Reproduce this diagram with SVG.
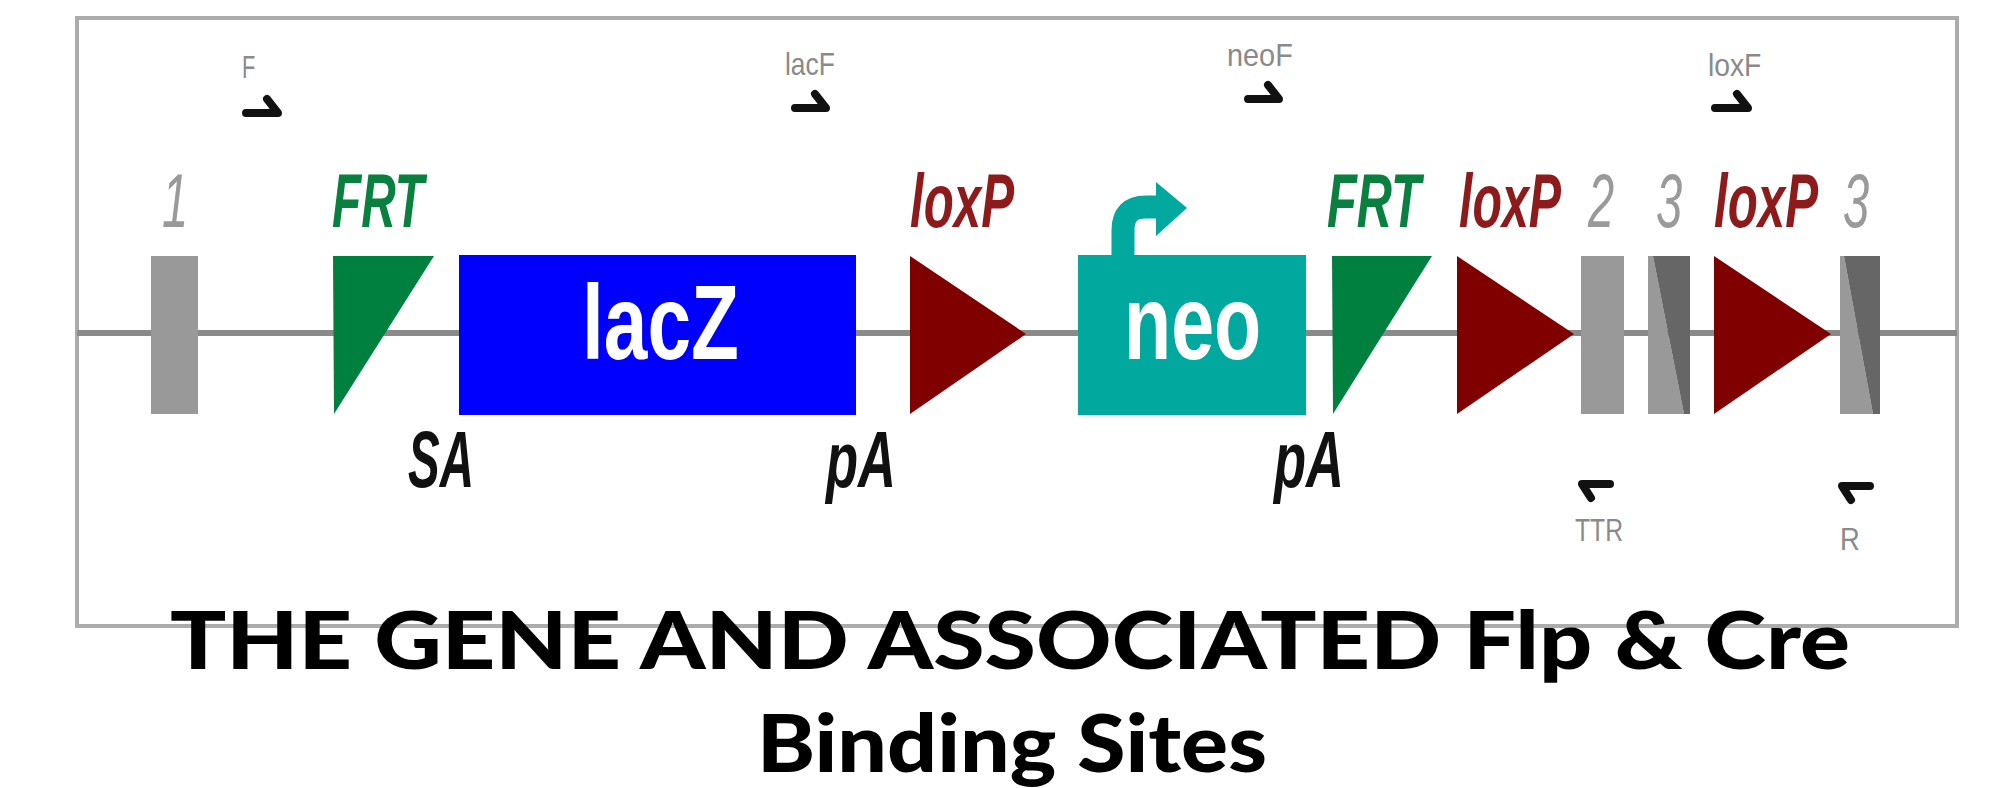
<svg xmlns="http://www.w3.org/2000/svg" width="1991" height="788" viewBox="0 0 1991 788">
  <style>
    .frame { fill: none; stroke: #acacac; stroke-width: 4; }
    .backbone { stroke: #8a8a8a; stroke-width: 6; fill: none; }
    .exon { fill: #999999; }
    .exon-dark { fill: #666666; }
    .frt { fill: #00803f; }
    .lox { fill: #800000; }
    .site { font-family: "Liberation Sans", Arial, sans-serif; font-size: 76px; font-weight: bold; font-style: italic; }
    .num { font-family: "Liberation Sans", Arial, sans-serif; font-size: 76px; font-style: italic; fill: #9a9a9a; }
    .frt-label { fill: #0a8040; }
    .lox-label { fill: #8e1b1b; }
    .mark { font-family: "Liberation Sans", Arial, sans-serif; font-size: 80px; font-weight: bold; font-style: italic; fill: #111111; }
    .inner { font-family: "Liberation Sans", Arial, sans-serif; font-size: 106px; font-weight: bold; fill: #ffffff; }
    .primer { fill: none; stroke: #111111; stroke-width: 8; stroke-linecap: round; stroke-linejoin: round; }
    .primer-label { font-family: "Liberation Sans", Arial, sans-serif; font-size: 31px; fill: #8a8a8a; }
    .title { font-family: Lato, "Open Sans", "Liberation Sans", sans-serif; font-size: 80px; font-weight: 900; fill: #000000; }
  </style>

  <rect width="1991" height="788" fill="#ffffff"/>

  <!-- panel frame -->
  <rect class="frame" x="77" y="18" width="1880" height="608"/>

  <!-- DNA backbone -->
  <g id="connectors">
    <line class="backbone" x1="77" y1="333" x2="1957" y2="333"/>
  </g>

  <!-- exon 1 -->
  <g id="exon1">
    <rect class="exon" x="151" y="256" width="47" height="158"/>
    <text class="num" transform="translate(162,227) scale(0.62,1)">1</text>
  </g>

  <!-- first FRT site -->
  <g id="frt1">
    <polygon class="frt" points="333,256 434,256 334,414"/>
    <text class="site frt-label" transform="translate(332,227) scale(0.63,1)" textLength="146" lengthAdjust="spacingAndGlyphs">FRT</text>
  </g>

  <!-- splice acceptor -->
  <g id="sa">
    <text class="mark" transform="translate(408,487) scale(0.6,1)" textLength="110" lengthAdjust="spacingAndGlyphs">SA</text>
  </g>

  <!-- lacZ reporter -->
  <g id="lacz">
    <rect x="459" y="255" width="397" height="160" fill="#0000ff"/>
    <text class="inner" transform="translate(582,359) scale(0.74,1)" textLength="212" lengthAdjust="spacingAndGlyphs">lacZ</text>
  </g>

  <!-- lacZ polyA -->
  <g id="pa1">
    <text class="mark" transform="translate(826,487) scale(0.66,1)" textLength="106" lengthAdjust="spacingAndGlyphs">pA</text>
  </g>

  <!-- first loxP site -->
  <g id="loxp1">
    <polygon class="lox" points="910,256 1026,334 910,414"/>
    <text class="site lox-label" transform="translate(910,227) scale(0.65,1)" textLength="160" lengthAdjust="spacingAndGlyphs">loxP</text>
  </g>

  <!-- neo cassette with promoter -->
  <g id="neo">
    <path d="M1123,258 V230 Q1123,207 1146,207 H1160" fill="none" stroke="#00a89e" stroke-width="23"/>
    <polygon points="1156,182 1187,208 1156,236" fill="#00a89e"/>
    <rect x="1078" y="255" width="228" height="160" fill="#00a89e"/>
    <text class="inner" transform="translate(1124,359) scale(0.73,1)" textLength="188" lengthAdjust="spacingAndGlyphs">neo</text>
  </g>

  <!-- neo polyA -->
  <g id="pa2">
    <text class="mark" transform="translate(1274,487) scale(0.66,1)" textLength="106" lengthAdjust="spacingAndGlyphs">pA</text>
  </g>

  <!-- second FRT site -->
  <g id="frt2">
    <polygon class="frt" points="1332,256 1432,256 1333,414"/>
    <text class="site frt-label" transform="translate(1327,227) scale(0.63,1)" textLength="149" lengthAdjust="spacingAndGlyphs">FRT</text>
  </g>

  <!-- second loxP site -->
  <g id="loxp2">
    <polygon class="lox" points="1457,256 1574,334 1457,414"/>
    <text class="site lox-label" transform="translate(1459,227) scale(0.65,1)" textLength="157" lengthAdjust="spacingAndGlyphs">loxP</text>
  </g>

  <!-- exon 2 -->
  <g id="exon2">
    <rect class="exon" x="1581" y="256" width="43" height="158"/>
    <text class="num" transform="translate(1588,227) scale(0.62,1)">2</text>
  </g>

  <!-- exon 3 -->
  <g id="exon3">
    <polygon class="exon" points="1648,256 1653,256 1684,414 1648,414"/>
    <polygon class="exon-dark" points="1653,256 1690,256 1690,414 1684,414"/>
    <text class="num" transform="translate(1656,227) scale(0.62,1)">3</text>
  </g>

  <!-- third loxP site -->
  <g id="loxp3">
    <polygon class="lox" points="1714,256 1831,334 1714,414"/>
    <text class="site lox-label" transform="translate(1714,227) scale(0.65,1)" textLength="160" lengthAdjust="spacingAndGlyphs">loxP</text>
  </g>

  <!-- exon 3 after the loxP site -->
  <g id="exon3b">
    <polygon class="exon" points="1840,256 1844,256 1873,414 1840,414"/>
    <polygon class="exon-dark" points="1844,256 1880,256 1880,414 1873,414"/>
    <text class="num" transform="translate(1843,227) scale(0.62,1)">3</text>
  </g>

  <!-- primers -->
  <g id="primer-f">
    <text class="primer-label" transform="translate(242,78) scale(0.7,1)" textLength="19" lengthAdjust="spacingAndGlyphs">F</text>
    <path class="primer" d="M246,113 H278 L267,99"/>
  </g>
  <g id="primer-lacf">
    <text class="primer-label" transform="translate(785,75) scale(0.86,1)" textLength="58" lengthAdjust="spacingAndGlyphs">lacF</text>
    <path class="primer" d="M795,108 H826 L815,94"/>
  </g>
  <g id="primer-neof">
    <text class="primer-label" transform="translate(1227,66) scale(0.94,1)" textLength="70" lengthAdjust="spacingAndGlyphs">neoF</text>
    <path class="primer" d="M1248,99 H1279 L1268,85"/>
  </g>
  <g id="primer-loxf">
    <text class="primer-label" transform="translate(1708,76) scale(0.92,1)" textLength="58" lengthAdjust="spacingAndGlyphs">loxF</text>
    <path class="primer" d="M1715,108 H1748 L1737,94"/>
  </g>
  <g id="primer-ttr">
    <path class="primer" d="M1610,484 H1582 L1591,498"/>
    <text class="primer-label" transform="translate(1575,541) scale(0.8,1)" textLength="60" lengthAdjust="spacingAndGlyphs">TTR</text>
  </g>
  <g id="primer-r">
    <path class="primer" d="M1870,486 H1842 L1851,500"/>
    <text class="primer-label" transform="translate(1840,550) scale(0.9,1)" textLength="22" lengthAdjust="spacingAndGlyphs">R</text>
  </g>

  <!-- caption -->
  <g id="caption">
    <text class="title" x="170" y="669" textLength="1680" lengthAdjust="spacingAndGlyphs">THE GENE AND ASSOCIATED Flp &amp; Cre</text>
    <text class="title" x="757" y="772" textLength="510" lengthAdjust="spacingAndGlyphs">Binding Sites</text>
  </g>
</svg>
